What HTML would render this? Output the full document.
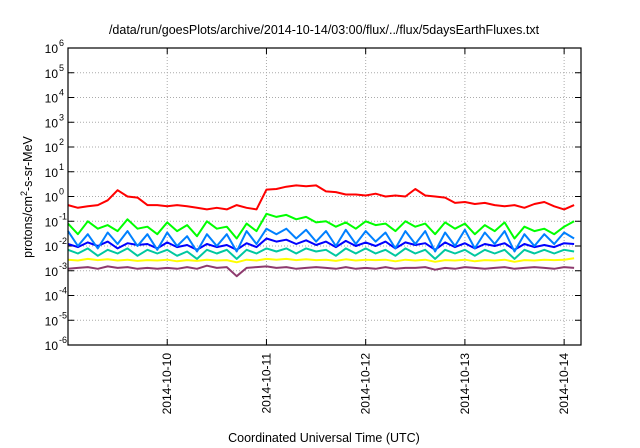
<!DOCTYPE html>
<html><head><meta charset="utf-8"><style>
body{margin:0;background:#fff;}
svg{display:block;font-family:"Liberation Sans",sans-serif;}
</style></head><body>
<svg id="chart" width="640" height="448"></svg>
<script>
const dayLabels=["2014-10-10","2014-10-11","2014-10-12","2014-10-13","2014-10-14"];
const dayPositions=[1,2,3,4,5];
const yExponents=[-6,-5,-4,-3,-2,-1,0,1,2,3,4,5,6];
const timeStep=0.1;
const red=[0.45,0.35,0.4,0.45,0.7,1.8,1.0,0.9,0.45,0.45,0.4,0.45,0.4,0.35,0.3,0.35,0.3,0.45,0.35,0.3,1.9,2.0,2.5,2.8,2.6,2.8,1.6,1.5,1.2,1.2,1.1,1.3,1.0,1.1,1.0,2.0,1.1,1.0,0.9,0.55,0.6,0.5,0.55,0.45,0.4,0.45,0.35,0.5,0.6,0.4,0.3,0.45];
const green=[0.08,0.03,0.1,0.05,0.07,0.04,0.12,0.05,0.06,0.03,0.09,0.04,0.07,0.025,0.1,0.05,0.06,0.02,0.08,0.04,0.2,0.15,0.18,0.12,0.15,0.09,0.1,0.06,0.09,0.05,0.1,0.07,0.08,0.04,0.1,0.06,0.08,0.03,0.09,0.05,0.08,0.03,0.07,0.04,0.09,0.02,0.06,0.04,0.05,0.03,0.06,0.1];
const lightBlue=[0.04,0.01,0.03,0.008,0.035,0.012,0.04,0.01,0.03,0.007,0.035,0.01,0.025,0.006,0.03,0.01,0.03,0.006,0.04,0.012,0.05,0.03,0.05,0.02,0.045,0.015,0.04,0.01,0.045,0.012,0.04,0.015,0.035,0.008,0.04,0.012,0.04,0.006,0.035,0.01,0.045,0.008,0.035,0.012,0.04,0.006,0.03,0.01,0.03,0.012,0.035,0.02];
const blue=[0.012,0.009,0.014,0.01,0.015,0.008,0.013,0.011,0.012,0.008,0.014,0.009,0.011,0.007,0.012,0.009,0.011,0.007,0.013,0.009,0.02,0.015,0.018,0.012,0.017,0.011,0.015,0.009,0.016,0.01,0.014,0.01,0.015,0.008,0.014,0.011,0.013,0.007,0.014,0.009,0.013,0.008,0.012,0.01,0.013,0.007,0.012,0.009,0.011,0.009,0.013,0.012];
const teal=[0.007,0.005,0.008,0.004,0.007,0.005,0.008,0.004,0.007,0.005,0.007,0.004,0.006,0.003,0.007,0.005,0.007,0.003,0.007,0.005,0.008,0.006,0.008,0.005,0.008,0.006,0.007,0.004,0.008,0.005,0.008,0.005,0.007,0.004,0.008,0.005,0.007,0.003,0.007,0.005,0.007,0.004,0.007,0.005,0.007,0.003,0.007,0.005,0.007,0.005,0.007,0.006];
const yellow=[0.0028,0.0026,0.003,0.0027,0.0029,0.0026,0.0028,0.0025,0.0027,0.0026,0.0028,0.0024,0.0027,0.0025,0.0028,0.0026,0.0027,0.0022,0.0028,0.0026,0.003,0.0028,0.003,0.0027,0.0029,0.0027,0.0028,0.0025,0.0029,0.0026,0.0028,0.0027,0.0028,0.0024,0.0028,0.0026,0.0028,0.0023,0.0027,0.0026,0.0028,0.0024,0.0027,0.0026,0.0028,0.0023,0.0027,0.0026,0.0028,0.0027,0.0028,0.0032];
const purple=[0.0012,0.0013,0.0014,0.0012,0.0015,0.0013,0.0014,0.0012,0.0013,0.0012,0.0013,0.0012,0.0014,0.0012,0.0016,0.0013,0.0014,0.0006,0.0013,0.0014,0.0015,0.0013,0.0014,0.0012,0.0013,0.0014,0.0013,0.0012,0.0014,0.0012,0.0013,0.0012,0.0014,0.0012,0.0013,0.0013,0.0014,0.0011,0.0013,0.0012,0.0014,0.0013,0.0012,0.0013,0.0014,0.0012,0.0013,0.0014,0.0013,0.0012,0.0014,0.0013];

const L=68,R=581,T=48,B=345,X0=0.0,X1=5.17;
const NS="http://www.w3.org/2000/svg";
const svg=document.getElementById('chart');
function xs(d){return L+(d-X0)/(X1-X0)*(R-L);}
function ys(v){return T+(6-Math.log10(v))/12*(B-T);}
function ye(e){return T+(6-e)/12*(B-T);}
function mk(tag,attrs,parent){const e=document.createElementNS(NS,tag);for(const k in attrs)e.setAttribute(k,attrs[k]);(parent||svg).appendChild(e);return e;}

// grid + y ticks
yExponents.forEach(e=>{
  const y=ye(e);
  if(e>-6&&e<6){
    const g=mk('line',{x1:L,x2:R,y1:y,y2:y,stroke:'#aaa','stroke-width':1,'stroke-dasharray':'1,2'});
    
    
  }
  mk('line',{x1:L,x2:L+6,y1:y,y2:y,stroke:'#000'});
  mk('line',{x1:R-6,x2:R,y1:y,y2:y,stroke:'#000'});
  const t=mk('text',{x:58,y:y+5,'text-anchor':'end','font-size':12,fill:'#000'});
  
  
  t.textContent='10';
  const s=mk('tspan',{x:59,y:y-2,'font-size':9,'text-anchor':'start'},t);
  s.textContent=String(e);
});
// x grid + ticks
dayPositions.forEach((d,i)=>{
  const x=xs(d);
  const g=mk('line',{x1:x,x2:x,y1:T,y2:B,stroke:'#aaa','stroke-width':1,'stroke-dasharray':'1,2'});
  
  
  mk('line',{x1:x,x2:x,y1:B-6,y2:B,stroke:'#000'});
  mk('line',{x1:x,x2:x,y1:T,y2:T+6,stroke:'#000'});
  const t=mk('text',{x:0,y:0,'text-anchor':'end','font-size':12,fill:'#000',transform:`translate(${x+4},${B+8}) rotate(-90)`});
  
  
  t.textContent=dayLabels[i];
});
// series
const series=[[purple,'#8e3a6e','purple-series'],[yellow,'#ffff00','yellow-series'],[teal,'#00c8a0','teal-series'],[blue,'#0000ff','blue-series'],[lightBlue,'#0080ff','lightblue-series'],[green,'#00ff00','green-series'],[red,'#ff0000','red-series']];
series.forEach(([arr,col,name])=>{
  const pts=arr.map((v,i)=>xs(i*timeStep).toFixed(1)+','+ys(v).toFixed(1)).join(' ');
  const p=mk('polyline',{points:pts,fill:'none',stroke:col,'stroke-width':2,'stroke-linejoin':'round'});
  
  
});
// frame
const f=mk('rect',{x:L,y:T,width:R-L,height:B-T,fill:'none',stroke:'#000','stroke-width':1.2});


// title
const ti=mk('text',{x:324,y:34,'text-anchor':'middle','font-size':12.5,fill:'#000'});


ti.textContent='/data/run/goesPlots/archive/2014-10-14/03:00/flux/../flux/5daysEarthFluxes.txt';
// x title
const xt=mk('text',{x:324,y:442,'text-anchor':'middle','font-size':12.5,fill:'#000'});


xt.textContent='Coordinated Universal Time (UTC)';
// y title
const yt=mk('text',{x:0,y:0,'text-anchor':'middle','font-size':12.5,fill:'#000',transform:'translate(32,197) rotate(-90)'});


yt.textContent='protons/cm';
const sup=mk('tspan',{dy:-5,'font-size':9},yt);sup.textContent='2';
const rest=mk('tspan',{dy:5},yt);rest.textContent='-s-sr-MeV';
</script>
</body></html>
